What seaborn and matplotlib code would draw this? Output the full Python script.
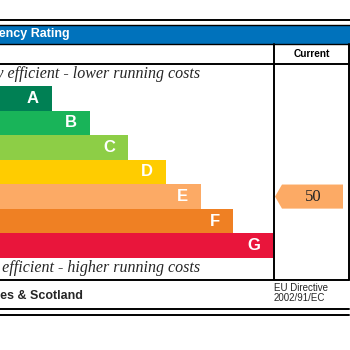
import matplotlib
matplotlib.use("Agg")
import matplotlib.pyplot as plt
import seaborn as sns
import pandas as pd
from matplotlib.patches import Polygon, Rectangle

# chart data
bands = ["A", "B", "C", "D", "E", "F", "G"]
bar_lengths = [52, 90, 128, 166, 201, 233, 273]
band_colors = ["#008054", "#19b459", "#8dce46", "#ffcc00",
               "#fcaa65", "#ef8023", "#e9153b"]
current_rating = 50
current_band = "E"

title = "Energy Efficiency Rating"
column_header = "Current"
top_note = "Very energy efficient - lower running costs"
bottom_note = "Not energy efficient - higher running costs"
region = "England, Wales & Scotland"
directive = ["EU Directive", "2002/91/EC"]

df = pd.DataFrame({"band": bands, "length": bar_lengths})

sns.set_theme(style="white")
plt.rcParams["font.family"] = ["Liberation Sans", "DejaVu Sans"]

W = H = 350
fig = plt.figure(figsize=(3.5, 3.5), dpi=100)


def fx(px):
    return px / W


def fy(py):
    return 1 - py / H


bar_top, bar_bot = 86, 258
box = [0, fy(bar_bot), fx(273), (bar_bot - bar_top) / H]
ax = fig.add_axes(box)
sns.barplot(data=df, x="length", y="band", hue="band", palette=band_colors,
            width=1.0, saturation=1, legend=False, ax=ax, linewidth=0)
ax.set_xlim(0, 273)
ax.axis("off")
for i, (b, l) in enumerate(zip(bands, bar_lengths)):
    ax.text(l - 13, i, b, ha="right", va="center", color="white",
            fontweight="bold", fontsize=12)

# current rating arrow
ax_r = fig.add_axes([fx(273), fy(bar_bot), fx(77), (bar_bot - bar_top) / H],
                    sharey=ax)
ax_r.set_xlim(0, 77)
ax_r.axis("off")
k = bands.index(current_band)
h = 0.49
arrow = Polygon([(2, k), (9, k - h), (70, k - h), (70, k + h), (9, k + h)],
                closed=True, facecolor=band_colors[k], edgecolor="none")
ax_r.add_patch(arrow)
ax_r.text(40, k, str(current_rating), ha="center", va="center",
          fontsize=12, family=["Liberation Serif"])

# frame, header and footer
ov = fig.add_axes([0, 0, 1, 1])
ov.set_xlim(0, W)
ov.set_ylim(H, 0)
ov.axis("off")
ov.patch.set_alpha(0)

lw = 1.4
ov.plot([0, 350], [20, 20], color="black", lw=lw)
ov.add_patch(Rectangle((-5, 24.5), 360, 19.5, facecolor="#0072bc",
                       edgecolor="black", lw=1))
ov.plot([349, 349], [44, 280], color="black", lw=lw)
ov.plot([273.5, 273.5], [44, 280], color="black", lw=lw)
ov.plot([0, 349], [63.5, 63.5], color="black", lw=lw)
ov.plot([0, 349], [280, 280], color="black", lw=lw)
ov.plot([0, 349], [309, 309], color="black", lw=lw)
ov.plot([0, 349], [315, 315], color="black", lw=lw)

ov.text(70, 34.5, title, ha="right", va="center", color="white",
        fontweight="bold", fontsize=9)
ov.text(311.5, 54, column_header, ha="center", va="center", color="black",
        fontsize=7.3, fontweight="bold")
ov.text(200, 74, top_note, ha="right", va="center", fontsize=11.5,
        style="italic", family=["Liberation Serif"])
ov.text(200, 268, bottom_note, ha="right", va="center", fontsize=11.5,
        style="italic", family=["Liberation Serif"])
ov.text(83, 296, region, ha="right", va="center", fontsize=9,
        fontweight="bold")
ov.text(274, 288, directive[0], ha="left", va="center", fontsize=7)
ov.text(274, 298, directive[1], ha="left", va="center", fontsize=7)

fig.savefig("out.png", dpi=100)
